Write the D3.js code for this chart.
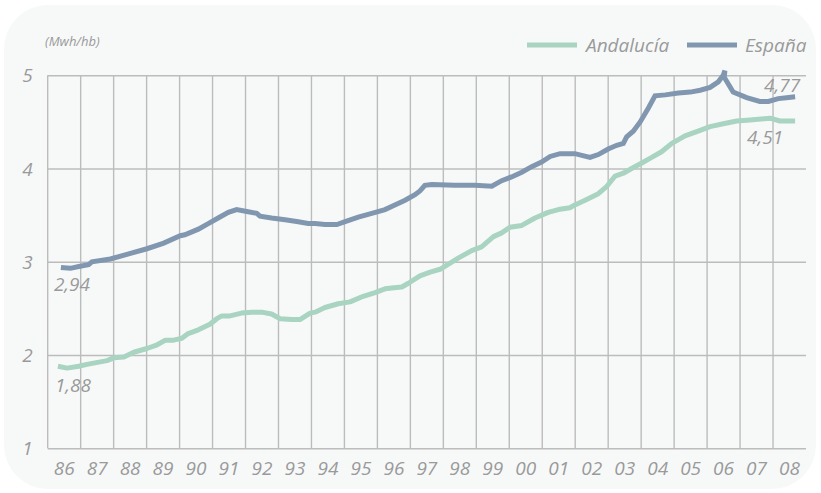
<!DOCTYPE html>
<html>
<head>
<meta charset="utf-8">
<script src="https://cdn.jsdelivr.net/npm/d3@7"></script>
<style>
  html, body { margin: 0; padding: 0; background: #ffffff; }
  svg { display: block; }
  text { font-family: "Open Sans", "DejaVu Sans", sans-serif; font-style: italic; }
</style>
</head>
<body>
<svg id="chart" width="821" height="493"></svg>
<script>
// ---- Data ----
const categories = ["86","87","88","89","90","91","92","93","94","95","96","97","98","99","00","01","02","03","04","05","06","07","08"];
const yTicks = [1, 2, 3, 4, 5];
const seriesNames = ["Andalucía", "España"];
const unitLabel = "(Mwh/hb)";

// España (decimal year, value)
const espanaT = [1986.40,1986.69,1986.94,1987.24,1987.34,1987.90,1988.51,1989.01,1989.52,1990.02,1990.16,1990.57,1990.87,1991.17,1991.48,1991.73,1992.04,1992.34,1992.44,1992.79,1993.20,1993.60,1993.90,1994.11,1994.41,1994.77,1995.02,1995.42,1995.83,1996.23,1996.53,1996.84,1997.14,1997.29,1997.44,1997.65,1998.35,1998.96,1999.47,1999.77,2000.07,2000.38,2000.68,2000.98,2001.24,2001.54,2001.84,2001.99,2002.45,2002.70,2003.00,2003.26,2003.46,2003.56,2003.76,2003.97,2004.22,2004.42,2004.73,2005.13,2005.49,2005.79,2006.09,2006.34,2006.49,2006.54,2006.52,2006.79,2007.20,2007.60,2007.86,2008.16,2008.41,2008.67];
const espanaV = [2.94,2.93,2.95,2.97,3.00,3.03,3.09,3.14,3.20,3.28,3.29,3.35,3.41,3.47,3.53,3.56,3.54,3.52,3.49,3.47,3.45,3.43,3.41,3.41,3.40,3.40,3.43,3.48,3.52,3.56,3.61,3.66,3.72,3.76,3.82,3.83,3.82,3.82,3.81,3.87,3.91,3.96,4.02,4.07,4.13,4.16,4.16,4.16,4.12,4.15,4.21,4.25,4.27,4.34,4.40,4.50,4.65,4.78,4.79,4.81,4.82,4.84,4.87,4.93,5.00,5.05,4.98,4.82,4.76,4.72,4.72,4.75,4.76,4.77];

// Andalucía (decimal year, value)
const andaluciaT = [1986.31,1986.59,1986.94,1987.19,1987.80,1988.00,1988.31,1988.61,1989.01,1989.32,1989.57,1989.82,1990.07,1990.26,1990.57,1990.92,1991.13,1991.28,1991.53,1991.88,1992.19,1992.49,1992.79,1993.05,1993.40,1993.65,1993.96,1994.11,1994.41,1994.81,1995.17,1995.57,1995.93,1996.23,1996.43,1996.74,1996.94,1997.29,1997.60,1997.90,1998.45,1998.86,1999.16,1999.52,1999.77,2000.02,2000.38,2000.78,2001.18,2001.49,2001.84,2001.99,2002.30,2002.70,2002.96,2003.21,2003.46,2003.71,2004.02,2004.32,2004.62,2004.93,2005.33,2005.79,2006.09,2006.49,2006.90,2007.30,2007.91,2008.21,2008.67];
const andaluciaV = [1.88,1.86,1.88,1.90,1.94,1.97,1.98,2.03,2.07,2.11,2.16,2.16,2.18,2.23,2.27,2.33,2.39,2.42,2.42,2.45,2.46,2.46,2.44,2.39,2.38,2.38,2.45,2.46,2.51,2.55,2.57,2.63,2.67,2.71,2.72,2.73,2.77,2.85,2.89,2.92,3.04,3.12,3.16,3.27,3.31,3.37,3.39,3.47,3.53,3.56,3.58,3.61,3.66,3.73,3.81,3.92,3.95,4.00,4.06,4.12,4.18,4.27,4.35,4.41,4.45,4.48,4.51,4.52,4.54,4.51,4.51];

// ---- Layout ----
const W = 821, H = 493;
const plot = { left: 47.7, right: 806, top: 75.3, bottom: 448.3 };
const colors = { andalucia: "#a8d4c1", espana: "#8197b0", grid: "#bcbcbc", text: "#9a9a9a", bg: "#f7f9f9" };

const svg = d3.select("#chart");

// background panel
svg.append("rect")
  .attr("x", 4).attr("y", 5)
  .attr("width", 812).attr("height", 484)
  .attr("rx", 44).attr("ry", 44)
  .attr("fill", colors.bg);

const x = d3.scaleLinear().domain([1986, 2009]).range([plot.left, plot.right]);
const xBand = d3.scaleBand().domain(categories).range([plot.left, plot.right]).padding(0);
const y = d3.scaleLinear().domain([1, 5]).range([plot.bottom, plot.top]);

// horizontal grid + y labels
const yAxis = svg.append("g")
  .attr("transform", `translate(${plot.left},0)`)
  .call(d3.axisLeft(y).tickValues(yTicks).tickSize(-(plot.right - plot.left)).tickPadding(15).tickFormat(d3.format("d")));
yAxis.select(".domain").remove();
yAxis.selectAll(".tick line").attr("stroke", colors.grid).attr("stroke-width", 1.4);
yAxis.selectAll(".tick text")
  .attr("fill", colors.text).style("font-size", "19px").attr("dy", "0.35em");

// vertical grid lines at category boundaries
svg.append("g").selectAll("line")
  .data(categories)
  .join("line")
  .attr("x1", d => xBand(d)).attr("x2", d => xBand(d))
  .attr("y1", plot.top).attr("y2", plot.bottom)
  .attr("stroke", colors.grid).attr("stroke-width", 1.4);

// x labels
const xAxis = svg.append("g")
  .attr("transform", `translate(0,${plot.bottom})`)
  .call(d3.axisBottom(xBand).tickSize(0).tickPadding(13));
xAxis.select(".domain").remove();
xAxis.selectAll(".tick text")
  .attr("fill", colors.text).style("font-size", "19px");

// lines
const line = d3.line().x(d => x(d[0])).y(d => y(d[1]));
const andData = andaluciaT.map((t, i) => [t, andaluciaV[i]]);
const espData = espanaT.map((t, i) => [t, espanaV[i]]);

svg.append("path").datum(andData)
  .attr("d", line).attr("fill", "none")
  .attr("stroke", colors.andalucia).attr("stroke-width", 5).attr("stroke-linejoin", "round");
svg.append("path").datum(espData)
  .attr("d", line).attr("fill", "none")
  .attr("stroke", colors.espana).attr("stroke-width", 5).attr("stroke-linejoin", "miter");

// value labels
const fmt = v => d3.format(".2f")(v).replace(".", ",");
const lbl = (txt, xx, yy, anchor) => svg.append("text")
  .attr("x", xx).attr("y", yy).attr("text-anchor", anchor)
  .attr("fill", colors.text).style("font-size", "19px").text(txt);

lbl(fmt(espanaV[0]), x(espanaT[0]) - 7, y(espanaV[0]) + 24, "start");
lbl(fmt(andaluciaV[0]), x(andaluciaT[0]) - 3, y(andaluciaV[0]) + 26, "start");
lbl(fmt(espanaV[espanaV.length - 1]), x(espanaT[espanaT.length - 1]) + 5, y(espanaV[espanaV.length - 1]) - 5, "end");
lbl(fmt(andaluciaV[andaluciaV.length - 1]), x(andaluciaT[andaluciaT.length - 1]) - 12, y(andaluciaV[andaluciaV.length - 1]) + 23, "end");

// unit label
svg.append("text").attr("x", 45).attr("y", 46)
  .attr("fill", colors.text).style("font-size", "13px").text(unitLabel);

// legend
const legend = [
  { name: seriesNames[0], color: colors.andalucia, x1: 527, tx: 586 },
  { name: seriesNames[1], color: colors.espana, x1: 687, tx: 745 }
];
const lg = svg.append("g");
legend.forEach(d => {
  lg.append("line").attr("x1", d.x1).attr("x2", d.x1 + 50).attr("y1", 45).attr("y2", 45)
    .attr("stroke", d.color).attr("stroke-width", 5);
  lg.append("text").attr("x", d.tx).attr("y", 51.5)
    .attr("fill", colors.text).style("font-size", "19px").text(d.name);
});
</script>
</body>
</html>
